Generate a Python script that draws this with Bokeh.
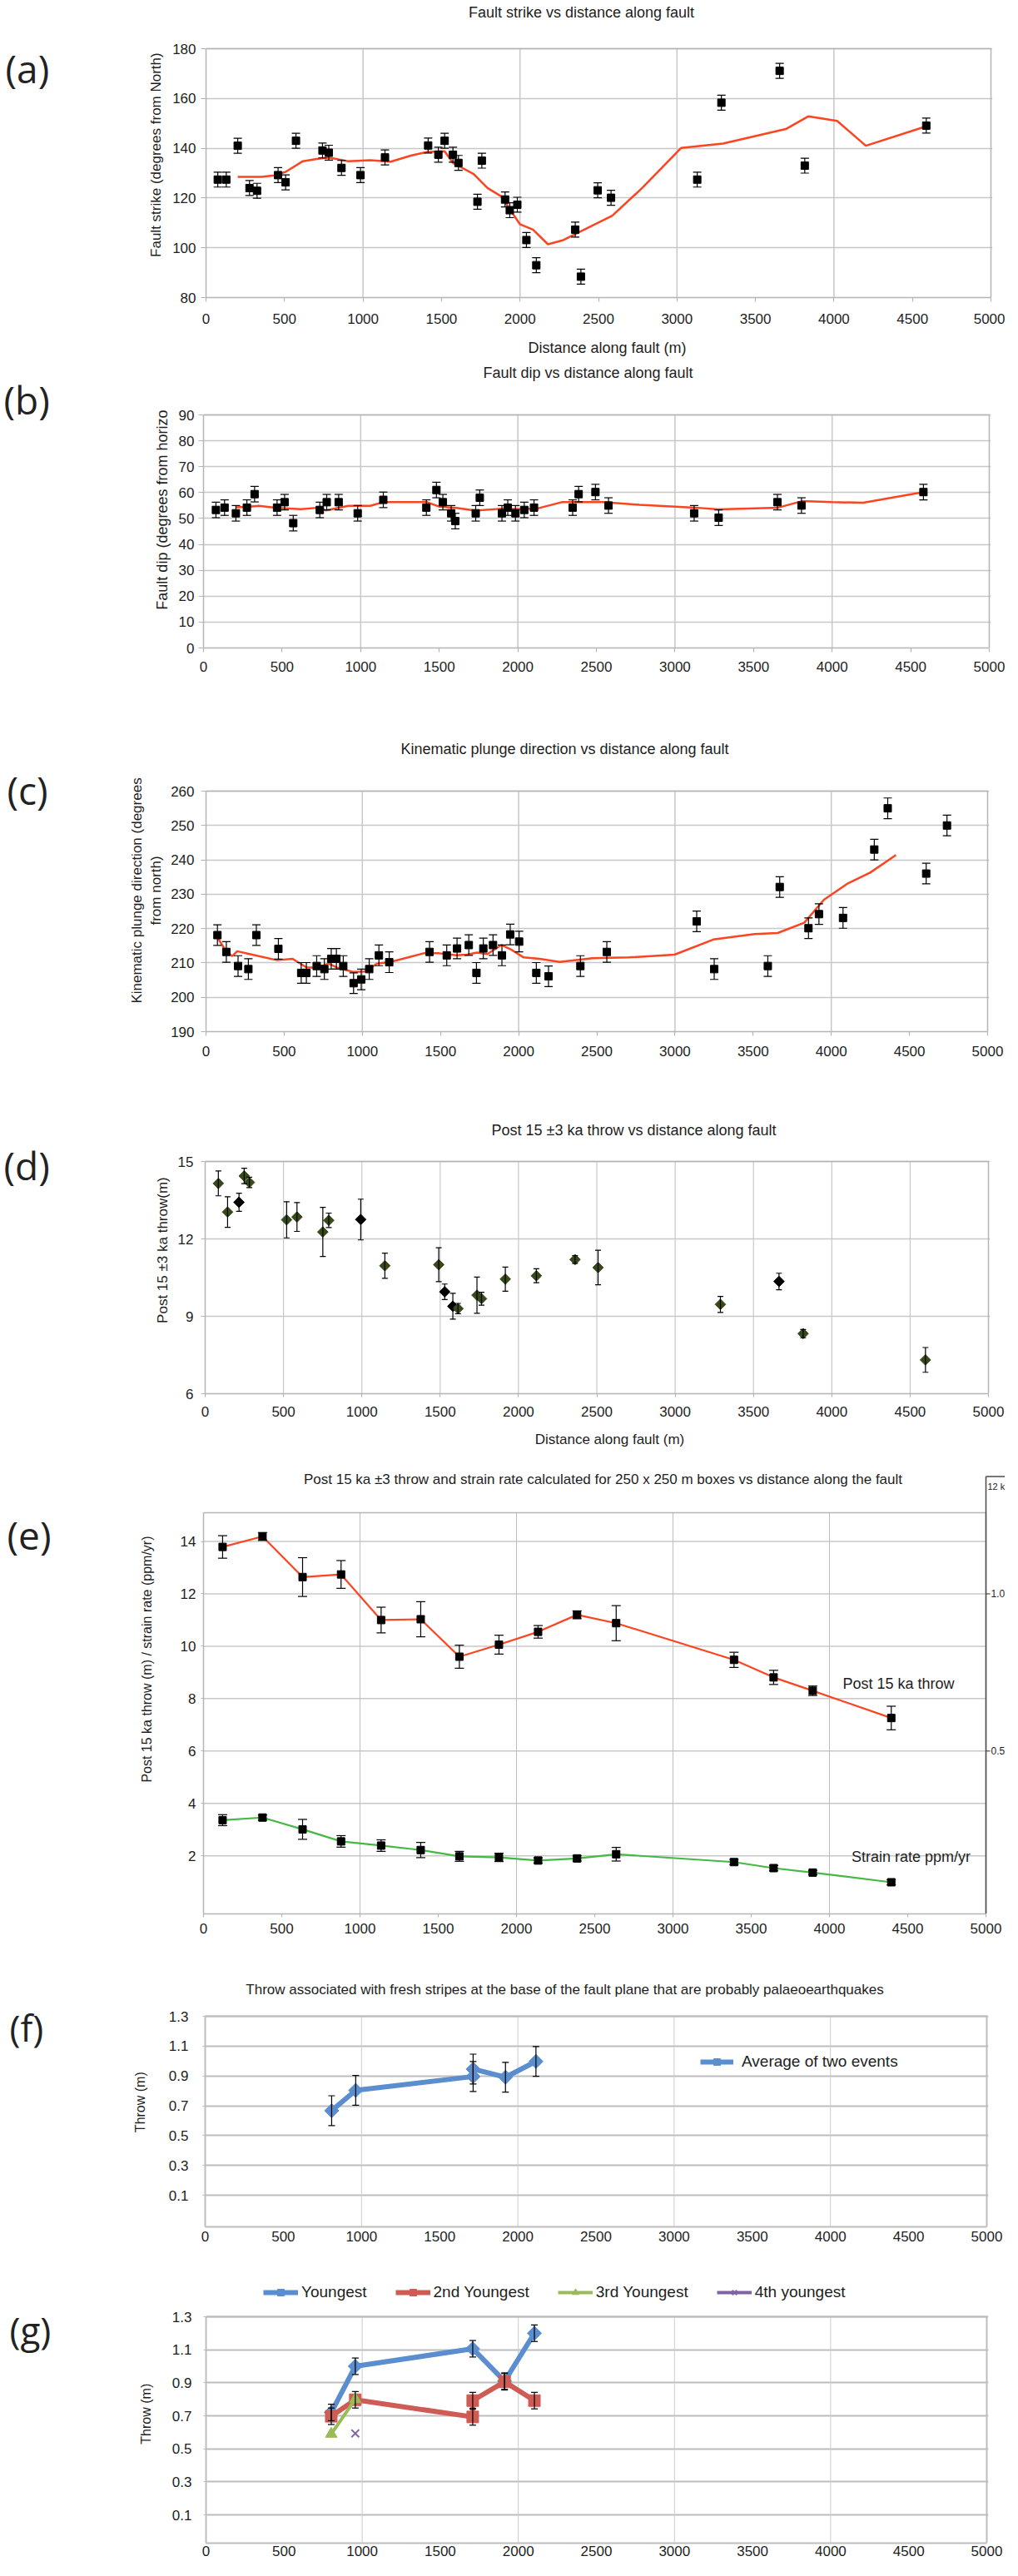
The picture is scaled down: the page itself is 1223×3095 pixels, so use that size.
import math
from bokeh.plotting import figure
from bokeh.models import (Range1d, FixedTicker, Label, Whisker, TeeHead,
                          ColumnDataSource, Legend, LegendItem)
from bokeh.layouts import column, row
from bokeh.embed import file_html
from bokeh.resources import INLINE
from bokeh.core.properties import value

# ===================== DATA =====================
dist_ticks = [0, 500, 1000, 1500, 2000, 2500, 3000, 3500, 4000, 4500, 5000]

# (a) fault strike
strike_dist = [75, 129, 202, 277, 325, 459, 507, 573, 742, 782, 863, 984, 1140, 1415, 1480, 1520, 1573,
               1608, 1729, 1757, 1905, 1935, 1983, 2041, 2104, 2352, 2388, 2495, 2580, 3129, 3283, 3654,
               3814, 4588]
strike_deg = [127.4, 127.4, 141.0, 124.0, 122.9, 129.2, 126.3, 143.0, 139.1, 138.2, 132.1, 129.2, 136.3,
              141.1, 137.4, 143.0, 137.4, 134.1, 118.5, 135.0, 119.4, 115.1, 117.3, 103.1, 93.0, 107.3,
              88.4, 123.1, 120.1, 127.4, 158.3, 171.1, 133.0, 149.1]
strike_err = 3.0
strike_fit_dist = [202, 353, 435, 507, 617, 705, 782, 903, 1046, 1177, 1309, 1408, 1520, 1573, 1705, 1793,
                   1880, 1999, 2083, 2178, 2276, 2588, 2778, 3026, 3293, 3693, 3836, 4020, 4203, 4588]
strike_fit_deg = [128.5, 128.5, 129.1, 130.5, 134.8, 135.7, 136.3, 134.8, 135.2, 134.6, 137.1, 138.5, 138.8,
                  134.1, 129.6, 124.0, 120.7, 109.5, 107.3, 101.4, 103.1, 112.9, 124.0, 140.1, 141.9,
                  147.7, 152.8, 151.0, 141.0, 148.8]
strike_ticks = [80, 100, 120, 140, 160, 180]

# (b) fault dip
dip_dist = [79, 134, 206, 276, 325, 468, 516, 571, 740, 784, 860, 981, 1144, 1418, 1482, 1523, 1576, 1602,
            1732, 1758, 1899, 1936, 1985, 2041, 2103, 2349, 2387, 2494, 2577, 3122, 3278, 3652, 3805, 4581]
dip_deg = [53.3, 54.2, 52.0, 54.2, 59.4, 54.2, 56.3, 48.2, 53.3, 56.3, 56.3, 52.0, 57.2, 54.2, 61.0, 56.3,
           52.0, 49.0, 52.0, 58.0, 52.0, 54.2, 52.0, 53.3, 54.2, 54.2, 59.4, 60.2, 55.0, 52.0, 50.3, 56.3,
           55.0, 60.2]
dip_err = 3.0
dip_fit_dist = [206, 276, 353, 468, 621, 740, 779, 922, 1060, 1144, 1214, 1422, 1499, 1609, 1732, 1899,
                1995, 2121, 2279, 2542, 2774, 3128, 3276, 3657, 3808, 4000, 4198, 4581]
dip_fit_deg = [54.3, 54.5, 54.9, 54.1, 53.6, 54.2, 53.1, 54.9, 54.9, 56.3, 56.3, 56.3, 54.6, 54.1, 53.0,
               53.8, 53.6, 53.8, 56.3, 56.3, 55.3, 54.2, 53.5, 54.2, 56.7, 56.3, 56.1, 60.2]
dip_ticks = [0, 10, 20, 30, 40, 50, 60, 70, 80, 90]

# (c) kinematic plunge direction
plunge_dist = [73, 130, 205, 271, 322, 463, 609, 642, 708, 757, 801, 834, 878, 944, 993, 1044, 1106, 1172,
               1430, 1540, 1606, 1681, 1730, 1774, 1836, 1893, 1946, 2003, 2113, 2191, 2395, 2564, 3139,
               3251, 3594, 3670, 3854, 3921, 4075, 4275, 4361, 4607, 4740]
plunge_deg = [218.1, 213.2, 209.1, 208.2, 218.1, 214.1, 207.1, 207.1, 209.1, 208.2, 211.2, 211.2, 209.1,
              204.1, 205.2, 208.2, 212.2, 210.2, 213.2, 212.2, 214.2, 215.2, 207.1, 214.2, 215.2, 212.2,
              218.3, 216.2, 207.1, 206.1, 209.1, 213.2, 222.1, 208.2, 209.1, 232.1, 220.1, 224.2, 223.1,
              243.0, 255.0, 236.0, 250.0]
plunge_err = 3.0
plunge_fit_dist = [79, 128, 168, 200, 278, 454, 554, 642, 708, 786, 840, 940, 1017, 1094, 1172, 1293, 1392,
                   1492, 1602, 1668, 1734, 1800, 1889, 1955, 2032, 2134, 2262, 2473, 2705, 2997, 3245,
                   3509, 3657, 3827, 3953, 4101, 4249, 4414]
plunge_fit_deg = [217.0, 213.4, 212.0, 213.4, 212.6, 210.8, 211.2, 208.7, 208.6, 209.8, 208.6, 207.4,
                  207.5, 209.8, 210.2, 211.6, 212.8, 212.8, 212.2, 212.4, 213.0, 212.6, 215.2, 213.8,
                  211.6, 211.2, 210.3, 211.4, 211.6, 212.4, 216.8, 218.4, 218.7, 221.7, 228.4, 233.0,
                  236.3, 241.4]
plunge_ticks = [190, 200, 210, 220, 230, 240, 250, 260]

# (d) post 15 +/-3 ka throw
throw_dist = [84, 143, 216, 249, 282, 520, 586, 751, 789, 993, 1147, 1491, 1529, 1581, 1614, 1735, 1764,
              1916, 2114, 2361, 2508, 3289, 3663, 3817, 4598]
throw_m = [14.15, 13.04, 13.42, 14.44, 14.19, 12.74, 12.85, 12.27, 12.72, 12.75, 10.96, 11.0, 9.95, 9.39,
           9.30, 9.82, 9.68, 10.44, 10.57, 11.20, 10.89, 9.46, 10.35, 8.33, 7.31]
throw_err = [0.48, 0.59, 0.35, 0.3, 0.2, 0.7, 0.56, 0.95, 0.28, 0.79, 0.49, 0.66, 0.3, 0.5, 0.2, 0.7, 0.25,
             0.47, 0.27, 0.15, 0.67, 0.31, 0.32, 0.16, 0.48]
throw_group = ["olive", "olive", "black", "olive", "olive", "olive", "olive", "olive", "olive", "black",
               "olive", "olive", "black", "black", "olive", "olive", "olive", "olive", "olive", "olive",
               "olive", "olive", "black", "olive", "olive"]
throw_ticks = [6, 9, 12, 15]

# (e) 250 x 250 m boxes
box_dist = [122, 377, 633, 879, 1135, 1388, 1635, 1888, 2138, 2387, 2637, 3390, 3643, 3893, 4395]
box_throw = [13.79, 14.19, 12.64, 12.74, 11.0, 11.03, 9.60, 10.06, 10.55, 11.20, 10.88, 9.48, 8.81, 8.30, 7.26]
box_throw_err = [0.43, 0.15, 0.74, 0.53, 0.49, 0.67, 0.44, 0.36, 0.24, 0.15, 0.67, 0.29, 0.27, 0.18, 0.45]
box_strain = [3.36, 3.46, 3.01, 2.55, 2.39, 2.22, 1.98, 1.94, 1.82, 1.90, 2.06, 1.76, 1.53, 1.36, 0.99]
box_strain_err = [0.21, 0.1, 0.38, 0.22, 0.22, 0.29, 0.19, 0.16, 0.1, 0.1, 0.26, 0.1, 0.1, 0.08, 0.1]
box_ticks = [2, 4, 6, 8, 10, 12, 14]
box_right_ticks = [0.5, 1.0]
box_right_labels = ["0.5", "1.0"]
box_right_factor = 12.0

# (f) average of two events
avg_dist = [809, 963, 1714, 1714, 1921, 2116]
avg_throw = [0.667, 0.803, 0.896, 0.946, 0.891, 0.997]
avg_err = [0.1, 0.1, 0.1, 0.1, 0.1, 0.1]

# (g) individual events
young_dist = [802, 956, 1708, 1912, 2103]
young_throw = [0.72, 1.0, 1.106, 0.91, 1.2]
young_err = [0.05, 0.05, 0.05, 0.05, 0.05]
second_dist = [802, 956, 1708, 1708, 1912, 2103]
second_throw = [0.697, 0.797, 0.693, 0.792, 0.906, 0.792]
second_err = [0.05, 0.05, 0.05, 0.05, 0.05, 0.05]
third_dist = [802, 956]
third_throw = [0.59, 0.80]
fourth_dist = [956]
fourth_throw = [0.593]
event_ticks = [0.1, 0.3, 0.5, 0.7, 0.9, 1.1, 1.3]

# ===================== STYLE / LAYOUT =====================
FIG_W = 1207
PAGE = 8
RIGHT_EDGE = PAGE + FIG_W
FONT = "Liberation Sans"
LETTER_FONT = "Open Sans"
TXT = "#1e1e1e"
RED = "#fb4420"
GREEN_E = "#45b845"
OLIVE = "#37491a"
BLUE = "#5a8ecf"
RED_G = "#cf5b55"
GREEN_G = "#9bbb59"
PURPLE = "#8064a2"
GRID = "#c8c8c8"
AXIS = "#b5b5b5"
VERT = math.pi / 2
X_END = dist_ticks[-1]
GRID_1000 = [1000, 2000, 3000, 4000]
GRID_500 = [500, 1000, 1500, 2000, 2500, 3000, 3500, 4000, 4500]


def strip(width, height):
    s = figure(width=width, height=height, x_range=Range1d(start=0, end=width),
               y_range=Range1d(start=height, end=0), output_backend="svg", toolbar_location=None,
               min_border=0, x_axis_location=None, y_axis_location=None)
    s.outline_line_color = None
    s.grid.visible = False
    s.background_fill_color = "white"
    s.border_fill_color = "white"
    return s


def label(p, xy, text, size, align="center", baseline="middle", angle=0.0, font=FONT, color=TXT):
    x, y = xy
    p.add_layout(Label(x=x, y=y, text=text, text_font=font, text_font_size=f"{size}px",
                       text_align=align, text_baseline=baseline, angle=angle, text_color=color))


def build(g, yticks, xout, xstand, yout, ystand, xgrid, axis_color=AXIS, border_w=1.5,
          ygrid_color=GRID, ygrid_w=1.5, xgrid_color=GRID, xgrid_w=1.5, builtin_ygrid=True):
    L, R, T, B, top, bottom, sr = g["L"], g["R"], g["T"], g["B"], g["top"], g["bottom"], g["sr"]
    Rf = g.get("Rf", R + 2)
    ppm = (R - L) / float(X_END)
    xr = (0.0, (Rf - L) / ppm)
    ppu = (B - T) / (g["yt"] - g["yb"])
    yr = (g["yb"], g["yt"] + (T - top) / ppu)
    p = figure(width=RIGHT_EDGE - sr, height=bottom - top,
               x_range=Range1d(start=xr[0], end=xr[1]), y_range=Range1d(start=yr[0], end=yr[1]),
               output_backend="svg", toolbar_location=None,
               min_border_left=L - sr, min_border_right=RIGHT_EDGE - Rf,
               min_border_top=0, min_border_bottom=bottom - B)
    p.background_fill_color = "white"
    p.border_fill_color = "white"
    p.outline_line_color = None
    p.xgrid.visible = False
    # axes
    p.xaxis[0].ticker = FixedTicker(ticks=dist_ticks)
    p.yaxis[0].ticker = FixedTicker(ticks=yticks)
    for ax in (p.xaxis[0], p.yaxis[0]):
        ax.major_label_text_font = FONT
        ax.major_label_text_font_size = "17px"
        ax.major_label_text_color = TXT
        ax.axis_line_color = axis_color
        ax.axis_line_width = border_w
        ax.major_tick_line_color = axis_color
        ax.major_tick_line_width = 1.2
        ax.major_tick_in = 0
        ax.minor_tick_line_color = None
    p.xaxis[0].major_tick_out = xout
    p.xaxis[0].major_label_standoff = xstand
    p.yaxis[0].major_tick_out = yout
    p.yaxis[0].major_label_standoff = ystand
    p.xaxis[0].bounds = (0, X_END)
    p.yaxis[0].bounds = (g["yb"], g["yt"])
    # grid
    if builtin_ygrid:
        p.ygrid[0].ticker = FixedTicker(ticks=yticks)
        p.ygrid[0].grid_line_color = ygrid_color
        p.ygrid[0].grid_line_width = ygrid_w
    else:
        p.ygrid.visible = False
        p.segment(x0=0, x1=X_END, y0=yticks, y1=yticks, line_color=ygrid_color, line_width=ygrid_w)
    p.segment(x0=xgrid, x1=xgrid, y0=g["yb"], y1=g["yt"], line_color=xgrid_color, line_width=xgrid_w)
    p.segment(x0=0, x1=X_END, y0=g["yt"], y1=g["yt"], line_color=axis_color, line_width=border_w)
    p.segment(x0=X_END, x1=X_END, y0=g["yb"], y1=g["yt"], line_color=axis_color, line_width=border_w)

    def at(px, py):
        return (xr[0] + (px - L) / (Rf - L) * (xr[1] - xr[0]),
                yr[1] - (py - top) / (B - top) * (yr[1] - yr[0]))

    s = strip(sr - PAGE, bottom - top)

    def sat(px, py):
        return (px - PAGE, py - top)
    return p, at, s, sat


def errorbars(p, xs, ys, errs, cap=10, width=1.2, color="black"):
    if not isinstance(errs, (list, tuple)):
        errs = [errs] * len(xs)
    src = ColumnDataSource(dict(x=list(xs),
                                lo=[y - e for y, e in zip(ys, errs)],
                                hi=[y + e for y, e in zip(ys, errs)]))
    w = Whisker(base="x", lower="lo", upper="hi", source=src, line_color=color, line_width=width,
                upper_head=TeeHead(size=cap, line_color=color, line_width=width),
                lower_head=TeeHead(size=cap, line_color=color, line_width=width), level="glyph")
    p.add_layout(w)


# ---------------- (a) ----------------
GA = dict(top=8, bottom=410, L=255, R=1198, T=66, B=365, yb=80, yt=180, sr=209)
pa, at_a, sa, sat_a = build(GA, strike_ticks, 5, 14, 6, 6, GRID_1000)
pa.line(strike_fit_dist, strike_fit_deg, line_color=RED, line_width=2.5)
errorbars(pa, strike_dist, strike_deg, strike_err, cap=10)
pa.scatter(strike_dist, strike_deg, marker="square", size=9, color="black")
label(pa, at_a(706, 22), "Fault strike vs distance along fault", 18)
label(sa, sat_a(195, 217), "Fault strike (degrees from North)", 17, angle=VERT)
label(sa, sat_a(14, 100), "(a)", 46, align="left", font=LETTER_FONT, color="#222")
xa = strip(FIG_W, 30)
label(xa, (737 - PAGE, 425 - 410), "Distance along fault (m)", 18)
panel_a = column(row(sa, pa), xa)

# ---------------- (b) ----------------
GB = dict(top=440, bottom=830, L=252, R=1196, T=506, B=786, yb=0, yt=90, sr=216)
pb, at_b, sb, sat_b = build(GB, dip_ticks, 5, 11, 6, 5, GRID_1000)
pb.line(dip_fit_dist, dip_fit_deg, line_color=RED, line_width=2.5)
errorbars(pb, dip_dist, dip_deg, dip_err, cap=10)
pb.scatter(dip_dist, dip_deg, marker="square", size=9, color="black")
label(pb, at_b(714, 455), "Fault dip vs distance along fault", 18)
label(sb, sat_b(202, 643), "Fault dip (degrees from horizo", 18, angle=VERT)
label(sb, sat_b(12, 494), "(b)", 46, align="left", font=LETTER_FONT, color="#222")
panel_b = row(sb, pb)

# ---------------- (c) ----------------
GC = dict(top=830, bottom=1290, L=255, R=1194, T=958, B=1247, yb=190, yt=260, sr=209)
pc, at_c, sc, sat_c = build(GC, plunge_ticks, 5, 12, 6, 8, GRID_1000)
pc.line(plunge_fit_dist, plunge_fit_deg, line_color=RED, line_width=2.5)
errorbars(pc, plunge_dist, plunge_deg, plunge_err, cap=10)
pc.scatter(plunge_dist, plunge_deg, marker="square", size=9, color="black")
label(pc, at_c(686, 907), "Kinematic plunge direction vs distance along fault", 18)
label(sc, sat_c(172, 1103), "Kinematic plunge direction (degrees", 17, angle=VERT)
label(sc, sat_c(195, 1103), "from north)", 17, angle=VERT)
label(sc, sat_c(16, 969), "(c)", 46, align="left", font=LETTER_FONT, color="#222")
panel_c = row(sc, pc)

# ---------------- (d) ----------------
GD = dict(top=1290, bottom=1722, L=254, R=1195, T=1403, B=1682, yb=6, yt=15, sr=217)
pd_, at_d, sd, sat_d = build(GD, throw_ticks, 4, 11, 5, 9, GRID_500, xgrid_w=1.2)
errorbars(pd_, throw_dist, throw_m, throw_err, cap=7)
d_colors = [OLIVE if grp == "olive" else "black" for grp in throw_group]
pd_.scatter(x=throw_dist, y=throw_m, marker="square", angle=math.pi / 4, size=9, color=d_colors)
label(pd_, at_d(769, 1365), "Post 15 \u00b13 ka throw vs distance along fault", 18)
label(sd, sat_d(203, 1532), "Post 15 \u00b13 ka throw(m)", 17, angle=VERT)
label(sd, sat_d(12, 1419), "(d)", 46, align="left", font=LETTER_FONT, color="#222")
xd = strip(FIG_W, 33)
label(xd, (740 - PAGE, 1737 - 1722), "Distance along fault (m)", 17)
panel_d = column(row(sd, pd_), xd)

# ---------------- (e) ----------------
E_Y14, E_Y2 = 1859.5, 2237.2
e_ppu = (E_Y2 - E_Y14) / 12.0


def e_val(py):
    return 14 - (py - E_Y14) / e_ppu


GE = dict(top=1755, bottom=2345, L=252, R=1192, Rf=RIGHT_EDGE, T=1825, B=2307,
          yb=e_val(2307), yt=e_val(1825), sr=198)
pe, at_e, se, sat_e = build(GE, box_ticks, 4, 7, 3, 6, GRID_1000, builtin_ygrid=False,
                            xgrid_color="#bdbdbd", xgrid_w=1)
box_top = e_val(1781.5)
x_right = at_e(RIGHT_EDGE, 0)[0]
e_ppm = (GE["R"] - GE["L"]) / float(X_END)
pe.segment(x0=X_END, x1=X_END, y0=GE["yb"], y1=box_top, line_color="#4a4a4a", line_width=1.5)
pe.segment(x0=X_END, x1=x_right, y0=box_top, y1=box_top, line_color="#4a4a4a", line_width=1.5)
rt = [r * box_right_factor for r in box_right_ticks]
pe.segment(x0=X_END, x1=X_END + 5 / e_ppm, y0=rt, y1=rt, line_color="#4a4a4a", line_width=1.2)
pe.text(x=X_END + 6 / e_ppm, y=rt, text=box_right_labels, text_font=value(FONT),
        text_font_size=value("12px"), text_color=TXT, text_baseline="middle", text_align="left")
pe.line(box_dist, box_throw, line_color=RED, line_width=2.2)
pe.line(box_dist, box_strain, line_color=GREEN_E, line_width=2.2)
errorbars(pe, box_dist, box_throw, box_throw_err, cap=11)
errorbars(pe, box_dist, box_strain, box_strain_err, cap=11)
pe.scatter(box_dist, box_throw, marker="square", size=9, color="black")
pe.scatter(box_dist, box_strain, marker="square", size=9, color="black")
label(pe, at_e(732, 1785),
      "Post 15 ka \u00b13 throw and strain rate calculated for 250 x 250 m boxes vs distance along the fault", 17)
label(pe, at_e(1087, 2030), "Post 15 ka throw", 18)
label(pe, at_e(1102, 2238), "Strain rate ppm/yr", 18)
label(pe, at_e(1194, 1793), "12 k", 11, align="left")
label(se, sat_e(184, 2018), "Post 15 ka throw (m) / strain rate (ppm/yr)", 16, angle=VERT)
label(se, sat_e(16, 1858), "(e)", 46, align="left", font=LETTER_FONT, color="#222")
panel_e = row(se, pe)

# ---------------- (f) ----------------
f_ppu = (2645 - 2430) / 1.2
GF = dict(top=2345, bottom=2715, L=254, R=1193, T=2430, B=2683, yb=0.1 - (2683 - 2645) / f_ppu, yt=1.3,
          sr=190)
pf, at_f, sf, sat_f = build(GF, event_ticks, 0, 5, 3, 17, GRID_1000, axis_color="#bdbdbd", border_w=2,
                            ygrid_color="#bdbdbd", ygrid_w=2, xgrid_color="#cccccc", xgrid_w=1)
f_line = pf.line(avg_dist, avg_throw, line_color=BLUE, line_width=6)
errorbars(pf, avg_dist, avg_throw, avg_err, cap=8)
f_mark = pf.scatter(avg_dist, avg_throw, marker="square", angle=math.pi / 4, size=12, color=BLUE)
leg_f = Legend(items=[LegendItem(label="Average of two events", renderers=[f_line, f_mark])],
               location=(849 - GF["L"], GF["B"] - 2496), orientation="vertical",
               padding=0, margin=0, spacing=0, glyph_width=40, glyph_height=20, label_height=20,
               label_standoff=10, label_text_font=FONT, label_text_font_size="19px",
               label_text_color=TXT, border_line_color=None, background_fill_alpha=0)
pf.add_layout(leg_f)
label(pf, at_f(686, 2398),
      "Throw associated with fresh stripes at the base of the fault plane that are probably palaeoearthquakes", 17)
label(sf, sat_f(176, 2551), "Throw (m)", 16, angle=VERT)
label(sf, sat_f(19, 2453), "(f)", 44, align="left", font=LETTER_FONT, color="#222")
panel_f = row(sf, pf)

# ---------------- (g) ----------------
g_ppu = (3029 - 2791) / 1.2
GG = dict(top=2715, bottom=3087, L=255, R=1193, T=2791, B=3063, yb=0.1 - (3063 - 3029) / g_ppu, yt=1.3,
          sr=197)
pg, at_g, sg, sat_g = build(GG, event_ticks, 0, 3, 3, 14, GRID_1000, axis_color="#bdbdbd", border_w=2,
                            ygrid_color="#bdbdbd", ygrid_w=2, xgrid_color="#cccccc", xgrid_w=1)
g1_line = pg.line(young_dist, young_throw, line_color=BLUE, line_width=6)
errorbars(pg, young_dist, young_throw, young_err, cap=8)
g1_mark = pg.scatter(young_dist, young_throw, marker="square", angle=math.pi / 4, size=12, color=BLUE)
g2_line = pg.line(second_dist, second_throw, line_color=RED_G, line_width=6)
errorbars(pg, second_dist, second_throw, second_err, cap=8)
g2_mark = pg.scatter(second_dist, second_throw, marker="square", size=14, color=RED_G)
g3_line = pg.line(third_dist, third_throw, line_color=GREEN_G, line_width=4)
g3_mark = pg.scatter(third_dist, third_throw, marker="triangle", size=14, color=GREEN_G)
g4_line = pg.line(fourth_dist, fourth_throw, line_color=PURPLE, line_width=4)
g4_mark = pg.scatter(fourth_dist, fourth_throw, marker="x", size=13, line_color=PURPLE, line_width=2)
leg_g = Legend(items=[LegendItem(label="Youngest", renderers=[g1_line, g1_mark]),
                      LegendItem(label="2nd Youngest", renderers=[g2_line, g2_mark]),
                      LegendItem(label="3rd Youngest", renderers=[g3_line, g3_mark]),
                      LegendItem(label="4th youngest", renderers=[g4_line, g4_mark])],
               location=(324 - GG["L"], GG["B"] - 2773), orientation="horizontal",
               padding=0, margin=0, spacing=34, glyph_width=42, glyph_height=20, label_height=20,
               label_standoff=4, label_text_font=FONT, label_text_font_size="19px",
               label_text_color=TXT, border_line_color=None, background_fill_alpha=0)
pg.add_layout(leg_g)
label(sg, sat_g(183, 2921), "Throw (m)", 16, angle=VERT)
label(sg, sat_g(19, 2813), "(g)", 44, align="left", font=LETTER_FONT, color="#222")
panel_g = row(sg, pg)

page = column(panel_a, panel_b, panel_c, panel_d, panel_e, panel_f, panel_g)
open("out.html", "w").write(file_html(page, INLINE))
